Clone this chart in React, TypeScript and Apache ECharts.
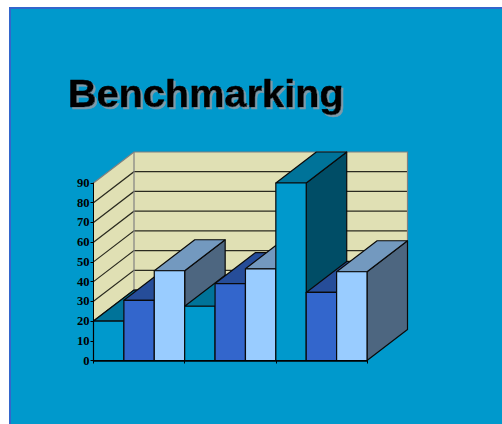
import React, { useEffect, useRef } from "react";
import * as echarts from "echarts";

const categories = ["Group 1", "Group 2", "Group 3"];
const seriesNames = ["First", "Second", "Third"];
const firstValues = [20, 27.5, 90];
const secondValues = [30.5, 39, 34.5];
const thirdValues = [45.5, 46.5, 45];
const wallTicks = [0, 10, 20, 30, 40, 50, 60, 70, 80, 90];

// Shades of each bar as [front, top, side].
const barShades = [
  ["#0099cc", "#007399", "#004d66"],
  ["#3366cc", "#264d99", "#1a3366"],
  ["#99ccff", "#7399bf", "#4d6680"],
];

const DEPTH_X = 40.5;
const DEPTH_Y = -31;
const OUTLINE = "#0a0a0a";

const allSeries = [firstValues, secondValues, thirdValues];
const barData = categories.flatMap((_, c) =>
  allSeries.map((values, s) => [c, s, values[c]])
);

function renderWall(_params: any, api: any) {
  const band = api.size([1, 0])[0];
  const left = api.coord([0, 0])[0] - band / 2;
  const right = left + band * categories.length;
  const bottom = api.coord([0, 0])[1];
  const top = api.coord([0, 90])[1];
  const wallFill = { fill: "#e0e0b4", stroke: "none" };
  const children: any[] = [
    {
      type: "polygon",
      shape: {
        points: [
          [left, bottom],
          [left + DEPTH_X, bottom + DEPTH_Y],
          [left + DEPTH_X, top + DEPTH_Y],
          [left, top],
        ],
      },
      style: wallFill,
    },
    {
      type: "rect",
      shape: {
        x: left + DEPTH_X,
        y: top + DEPTH_Y,
        width: right - left,
        height: bottom - top,
      },
      style: wallFill,
    },
  ];
  wallTicks.slice(0, -1).forEach((tick) => {
    const y = api.coord([0, tick])[1];
    children.push({
      type: "polyline",
      shape: {
        points: [
          [left, y],
          [left + DEPTH_X, y + DEPTH_Y],
          [right + DEPTH_X, y + DEPTH_Y],
        ],
      },
      style: { fill: "none", stroke: "#2b2b20", lineWidth: 1.2 },
    });
  });
  children.push({
    type: "polyline",
    shape: {
      points: [
        [left, top],
        [left + DEPTH_X, top + DEPTH_Y],
        [right + DEPTH_X, top + DEPTH_Y],
        [right + DEPTH_X, bottom + DEPTH_Y],
      ],
    },
    style: { fill: "none", stroke: "#808080", lineWidth: 1.2 },
  });
  children.push({
    type: "line",
    shape: {
      x1: left + DEPTH_X,
      y1: top + DEPTH_Y,
      x2: left + DEPTH_X,
      y2: bottom + DEPTH_Y,
    },
    style: { stroke: "#808080", lineWidth: 1.2 },
  });
  return { type: "group", children };
}

function renderBar(_params: any, api: any) {
  const c = api.value(0);
  const s = api.value(1);
  const band = api.size([1, 0])[0];
  const width = band / seriesNames.length;
  const [center, top] = api.coord([c, api.value(2)]);
  const bottom = api.coord([c, 0])[1];
  const x0 = center - band / 2 + s * width;
  const x1 = x0 + width;
  const [front, roof, side] = barShades[s];
  const edge = { stroke: OUTLINE, lineWidth: 1.2, lineJoin: "round" };
  return {
    type: "group",
    children: [
      {
        type: "polygon",
        shape: {
          points: [
            [x1, bottom],
            [x1 + DEPTH_X, bottom + DEPTH_Y],
            [x1 + DEPTH_X, top + DEPTH_Y],
            [x1, top],
          ],
        },
        style: { fill: side, ...edge },
      },
      {
        type: "polygon",
        shape: {
          points: [
            [x0, top],
            [x0 + DEPTH_X, top + DEPTH_Y],
            [x1 + DEPTH_X, top + DEPTH_Y],
            [x1, top],
          ],
        },
        style: { fill: roof, ...edge },
      },
      {
        type: "rect",
        shape: { x: x0, y: top, width, height: bottom - top },
        style: { fill: front, ...edge },
      },
    ],
  };
}

export default function App() {
  const ref = useRef<HTMLDivElement>(null);

  useEffect(() => {
    const chart = echarts.init(ref.current, undefined, { renderer: "svg" });
    chart.setOption({
      animation: false,
      backgroundColor: "#ffffff",
      title: {
        text: "Benchmarking",
        left: 68,
        top: 73,
        padding: 0,
        textStyle: {
          fontFamily: "Liberation Sans",
          fontWeight: "bold",
          fontSize: 39.7,
          color: "#000000",
          textBorderColor: "#000000",
          textBorderWidth: 0.6,
          textShadowColor: "#7f9aa8",
          textShadowOffsetX: 2,
          textShadowOffsetY: 2,
          textShadowBlur: 1,
        },
      },
      graphic: [
        {
          type: "rect",
          z: -10,
          silent: true,
          shape: { x: 10, y: 8, width: 520, height: 440 },
          style: { fill: "#0099cc", stroke: "#3366cc", lineWidth: 2 },
        },
      ],
      grid: { left: 93.5, top: 183, width: 273.5, height: 177.5 },
      xAxis: {
        type: "category",
        data: categories,
        z: 5,
        axisLine: { lineStyle: { color: "#000000", width: 1.5 } },
        axisTick: { show: true, length: 3, alignWithLabel: false, lineStyle: { color: "#000000" } },
        axisLabel: { show: false },
        splitLine: { show: false },
      },
      yAxis: {
        type: "value",
        min: 0,
        max: 90,
        interval: 10,
        z: 5,
        axisLine: { show: true, lineStyle: { color: "#000000", width: 1 } },
        axisTick: { show: true, length: 3, lineStyle: { color: "#000000" } },
        axisLabel: {
          margin: 4,
          fontFamily: "Liberation Serif",
          fontWeight: "bold",
          fontSize: 12.5,
          color: "#000000",
        },
        splitLine: { show: false },
      },
      series: [
        {
          type: "custom",
          name: "Wall",
          z: 1,
          clip: false,
          silent: true,
          renderItem: renderWall,
          data: [[0, 0]],
          encode: { x: 0, y: 1 },
        },
        {
          type: "custom",
          name: "Bars",
          z: 2,
          clip: false,
          silent: true,
          renderItem: renderBar,
          data: barData,
          encode: { x: 0, y: 2 },
        },
      ],
    });
    return () => chart.dispose();
  }, []);

  return (
    <div
      ref={ref}
      style={{ position: "absolute", left: 0, top: 0, width: 502, height: 424 }}
    />
  );
}
